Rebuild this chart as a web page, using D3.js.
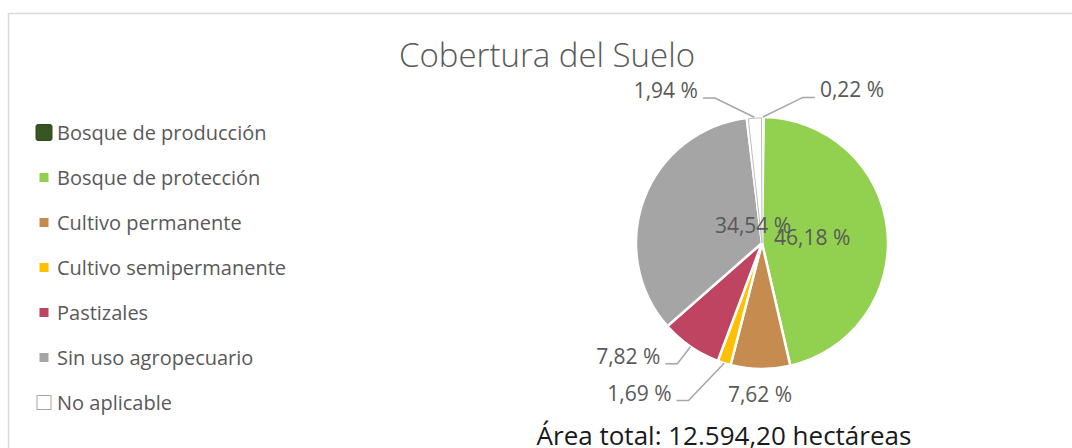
<!DOCTYPE html>
<html>
<head>
<meta charset="utf-8">
<script src="https://cdn.jsdelivr.net/npm/d3@7"></script>
<style>
  body { margin: 0; background: #fff; }
  svg text { font-family: "Open Sans", sans-serif; }
</style>
</head>
<body>
<div class="chart"></div>
<script>
// Cobertura del Suelo - pie chart
const categories = ['Bosque de producción', 'Bosque de protección', 'Cultivo permanente',
    'Cultivo semipermanente', 'Pastizales', 'Sin uso agropecuario', 'No aplicable'];
const values = [0.22, 46.18, 7.62, 1.69, 7.82, 34.54, 1.94];
const colors = ['#375623', '#92d050', '#c68b4e', '#ffc000', '#be4462', '#a5a5a5', '#ffffff'];
const labels = ['0,22 %', '46,18 %', '7,62 %', '1,69 %', '7,82 %', '34,54 %', '1,94 %'];

const data = categories.map((c, i) => ({name: c, value: values[i], color: colors[i], label: labels[i]}));

const width = 1072;
const height = 448;
const cx = 762, cy = 243, radius = 126;

// where each label goes: polar angle offset (deg), radius factor, anchor, leader line or not
const labelLayout = [
    {da: 15.3, rk: 1.2, anchor: 'start', leader: true},
    {da: 0, rk: 0.4, anchor: 'middle', leader: false},
    {da: 0, rk: 1.2, anchor: 'middle', leader: false},
    {da: 7.5, rk: 1.38, anchor: 'end', leader: true},
    {da: 0.4, rk: 1.17, anchor: 'end', leader: true},
    {da: 0, rk: 0.4, anchor: 'start', leader: false},
    {da: -14.5, rk: 1.21, anchor: 'end', leader: true}
];

const svg = d3.select('.chart')
    .append('svg')
    .attr('width', width)
    .attr('height', height);

// chart border
svg.append('rect')
    .attr('x', 8.5)
    .attr('y', 13.5)
    .attr('width', width + 10)
    .attr('height', height)
    .attr('fill', 'none')
    .attr('stroke', '#d9d9d9')
    .attr('stroke-width', 1.5);

svg.append('text')
    .attr('x', 547)
    .attr('y', 67)
    .attr('text-anchor', 'middle')
    .attr('fill', '#595959')
    .attr('font-size', 33)
    .attr('font-weight', 300)
    .text('Cobertura del Suelo');

const pie = d3.pie().sort(null).value(d => d.value);
const arcs = pie(data);
const arc = d3.arc().innerRadius(0).outerRadius(radius);

const g = svg.append('g').attr('transform', `translate(${cx},${cy})`);

g.selectAll('.slice')
    .data(arcs)
    .enter()
    .append('path')
    .attr('class', 'slice')
    .attr('d', arc)
    .attr('fill', d => d.data.color)
    .attr('stroke', '#fff')
    .attr('stroke-width', 2.5);

// white slice gets a grey outline
g.append('path')
    .attr('d', d3.arc().innerRadius(0).outerRadius(radius - 1)
        .startAngle(arcs[6].startAngle + 0.012).endAngle(arcs[6].endAngle - 0.004)())
    .attr('fill', 'none')
    .attr('stroke', '#bfbfbf')
    .attr('stroke-width', 1);

const polar = (a, r) => [Math.sin(a) * r, -Math.cos(a) * r];
const midAngle = d => (d.startAngle + d.endAngle) / 2;

arcs.forEach((d, i) => {
    const lay = labelLayout[i];
    const mid = midAngle(d);
    const p = polar(mid + lay.da * Math.PI / 180, radius * lay.rk);
    if (lay.leader) {
        const p0 = polar(mid, radius);
        const dir = lay.anchor === 'start' ? 1 : -1;
        const p2 = [p[0] + dir * 12, p[1]];
        g.append('polyline')
            .attr('points', [p0, p, p2].map(q => q.join(',')).join(' '))
            .attr('fill', 'none')
            .attr('stroke', '#a6a6a6')
            .attr('stroke-width', 1.5);
        g.append('text')
            .attr('x', p2[0] + dir * 5)
            .attr('y', p2[1])
            .attr('text-anchor', lay.anchor)
            .attr('fill', '#595959')
            .attr('font-size', 21)
            .text(d.data.label);
    } else {
        g.append('text')
            .attr('x', p[0])
            .attr('y', p[1])
            .attr('dy', '0.36em')
            .attr('text-anchor', lay.anchor)
            .attr('fill', '#595959')
            .attr('font-size', 21)
            .text(d.data.label);
    }
});

// legend
const legendY = d3.scaleBand()
    .domain(categories)
    .range([110, 425]);

const markerSize = (d, i) => i === 0 ? 16 : (i === categories.length - 1 ? 14 : 9);

const legend = svg.selectAll('.legend')
    .data(data)
    .enter()
    .append('g')
    .attr('class', 'legend')
    .attr('transform', d => `translate(0,${legendY(d.name) + legendY.bandwidth() / 2})`);

legend.append('rect')
    .attr('x', (d, i) => 44 - markerSize(d, i) / 2)
    .attr('y', (d, i) => -markerSize(d, i) / 2)
    .attr('width', markerSize)
    .attr('height', markerSize)
    .attr('rx', (d, i) => i === 0 ? 2 : 0)
    .attr('fill', d => d.color)
    .attr('stroke', (d, i) => i === categories.length - 1 ? '#a6a6a6' : (i === 0 ? '#2f4a1e' : 'none'))
    .attr('stroke-width', 1);

legend.append('text')
    .attr('x', 57)
    .attr('y', 0)
    .attr('dy', '0.35em')
    .attr('fill', '#595959')
    .attr('font-size', 20)
    .text(d => d.name);

svg.append('text')
    .attr('x', 724)
    .attr('y', 445)
    .attr('text-anchor', 'middle')
    .attr('fill', '#1a1a1a')
    .attr('font-size', 26)
    .text('Área total: 12.594,20 hectáreas');
</script>
</body>
</html>
